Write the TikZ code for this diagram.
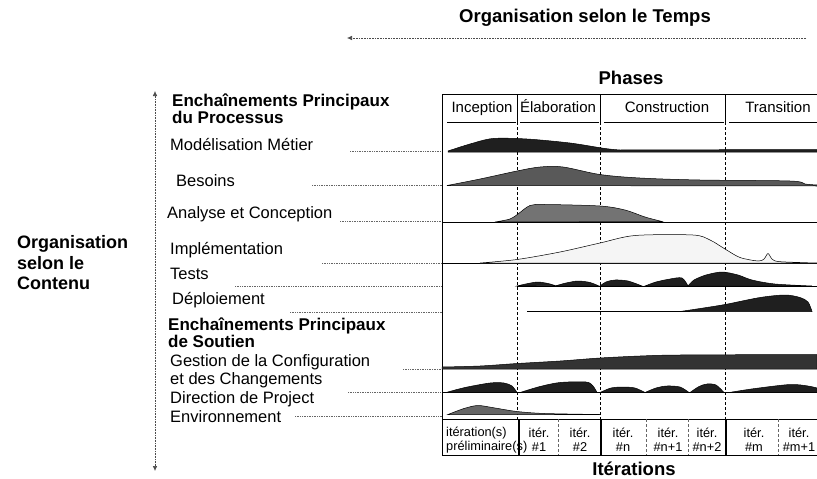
\documentclass[tikz,border=0pt]{standalone}
\usepackage{fontspec}
\setmainfont{Liberation Sans}
\usetikzlibrary{arrows.meta}
\begin{document}
\begin{tikzpicture}[x=1pt,y=-1pt,
  lbl/.style={anchor=west,inner sep=0pt,font=\fontsize{16.5}{18}\selectfont},
  lbltwo/.style={anchor=west,inner sep=0pt,align=left,font=\fontsize{16.5}{18}\selectfont},
  headtwo/.style={anchor=west,inner sep=0pt,align=left,font=\fontsize{17}{17}\selectfont\bfseries},
  bigtitle/.style={inner sep=0pt,font=\fontsize{18.5}{20.5}\selectfont\bfseries},
  phasetxt/.style={inner sep=0pt,anchor=base,font=\fontsize{15}{17}\selectfont},
  itertxt/.style={inner sep=0pt,align=center,font=\fontsize{12.8}{14}\selectfont},
  leader/.style={densely dotted,black!60,line width=0.7pt},
  axisline/.style={densely dotted,black!70,line width=0.6pt},
  divider/.style={densely dashed,black,line width=0.6pt},
  thindiv/.style={densely dashed,black!60,line width=0.5pt},
  thickdiv/.style={black,line width=1.8pt},
  frameline/.style={black,line width=0.7pt},
  hump/.style={draw=black,line width=0.5pt},
  humpblack/.style={draw=black,line width=0.5pt,fill=black!88},
  humpgray/.style={draw=black,line width=0.5pt,fill=black!60}
]
\useasboundingbox (0,0) rectangle (817,479);

% ---- titles
\node[bigtitle] (ttemps) at (585,18) {Organisation selon le Temps};
\coordinate (tA) at (806,38);
\coordinate (tB) at (347,38);
\draw[axisline,-{Latex[length=5pt,width=4.5pt]}] (tA) -- (tB);
\node[bigtitle] (tphases) at (631,78) {Phases};
\node[bigtitle] (titer) at (634,469) {Itérations};
\node[bigtitle,anchor=west,align=left,font=\fontsize{18}{20.5}\selectfont\bfseries] (tcont) at (17,263) {Organisation\\selon le\\Contenu};

% ---- vertical axis
\coordinate (vTop) at (155,91);
\coordinate (vBot) at (155,471);
\draw[axisline,{Latex[length=5pt,width=4.5pt]}-{Latex[length=5pt,width=4.5pt]}] (vTop) -- (vBot);

% ---- left labels
\node[headtwo] (hproc) at (172,108.5) {Enchaînements Principaux\\du Processus};
\node[lbl] (lmod) at (170,145) {Modélisation Métier};
\node[lbl] (lbes) at (176,181) {Besoins};
\node[lbl] (lana) at (167,214) {Analyse et Conception};
\node[lbl] (limp) at (170,250) {Implémentation};
\node[lbl] (ltes) at (170,274) {Tests};
\node[lbl] (ldep) at (172,300) {Déploiement};
\node[headtwo] (hsout) at (168,333) {Enchaînements Principaux\\de Soutien};
\node[lbltwo] (lges) at (170,371) {Gestion de la Configuration\\et des Changements};
\node[lbl] (ldir) at (170,399) {Direction de Project};
\node[lbl] (lenv) at (170,417) {Environnement};

% ---- leaders
\coordinate (m1) at (350,151); \coordinate (m2) at (442,151);
\coordinate (b1) at (312,185); \coordinate (b2) at (442,185);
\coordinate (a1) at (340,221); \coordinate (a2) at (442,221);
\coordinate (i1) at (322,263); \coordinate (i2) at (442,263);
\coordinate (s1) at (235,286); \coordinate (s2) at (442,286);
\coordinate (d1) at (290,312); \coordinate (d2) at (442,312);
\coordinate (g1) at (403,369); \coordinate (g2) at (442,369);
\coordinate (p1) at (348,392); \coordinate (p2) at (442,392);
\coordinate (e1) at (295,416); \coordinate (e2) at (442,416);
\foreach \a/\b in {m1/m2,b1/b2,a1/a2,i1/i2,s1/s2,d1/d2,g1/g2,p1/p2,e1/e2}
  \draw[leader] (\a) -- (\b);

% ---- frame and phase header
\draw[frameline] (442,455) -- (442,94) -- (817,94);
\draw[frameline] (442,455) -- (817,455);
\draw[frameline] (442,419) -- (817,419);
\foreach \x in {517,600,725} \draw[frameline] (\x,94) -- (\x,122);
\draw[frameline] (447,122) -- (516,122);
\draw[frameline] (520,122) -- (599,122);
\draw[frameline] (604,122) -- (724,122);
\draw[frameline] (729,122) -- (817,122);
\node[phasetxt] (pinc) at (482,112.5) {Inception};
\node[phasetxt] (pela) at (558,112.5) {Élaboration};
\node[phasetxt] (pcon) at (667,112.5) {Construction};
\node[phasetxt] (ptra) at (778,112.5) {Transition};
\foreach \x in {517,600,725} \draw[divider] (\x,122) -- (\x,419);

% ---- humps
% Modelisation Metier
\filldraw[humpblack] plot[smooth,tension=0.5] coordinates {(448,151) (470,144) (493,138.5) (527,139) (570,143) (605,148.5) (620,150)} -- (817,149.5) -- (817,152) -- (448,152) -- cycle;
% Besoins
\filldraw[humpgray,fill=black!65] plot[smooth,tension=0.55] coordinates {(447,185.5) (480,179) (517,171) (540,167) (563,167) (600,174.5) (640,178) (700,180) (790,181) (805,184) (817,185)} -- (817,186) -- cycle;
% Analyse et Conception
\draw[black,line width=0.8pt] (442,222) -- (817,222);
\filldraw[humpgray,fill=black!55] plot[smooth,tension=0.5] coordinates {(495,222) (510,219) (518,214) (530,205.5) (545,204.5) (600,206) (625,210) (645,217) (662,221.5)} -- cycle;
% Implementation
\draw[black,line width=0.8pt] (442,263.5) -- (817,263.5);
\filldraw[hump,fill=black!4] plot[smooth,tension=0.5] coordinates {(480,263) (517,259.5) (560,252) (600,243) (635,235.5) (693,235) (710,240) (725,249) (740,257.5) (758,261) (764,259) (768,253.5) (772,259) (778,261.5) (800,262.5) (817,263)} -- cycle;
% Tests
\draw[black,line width=0.8pt] (517,286) -- (817,286);
\filldraw[humpblack] plot[smooth,tension=0.5] coordinates {(517,286) (528,283.5) (538,282) (548,283.5) (555,285.5)} -- cycle;
\filldraw[humpblack] plot[smooth,tension=0.5] coordinates {(555,286) (566,283) (578,281) (590,282.5) (599,286)} -- cycle;
\filldraw[humpblack] plot[smooth,tension=0.5] coordinates {(600,286) (606,282) (615,280) (628,281) (642,286)} -- cycle;
\filldraw[humpblack] plot[smooth,tension=0.5] coordinates {(645,286) (656,282) (670,279) (682,278) (688,286)} -- cycle;
\filldraw[humpblack] plot[smooth,tension=0.5] coordinates {(688,286) (694,280) (706,275) (722,272) (738,275) (752,280) (775,284) (812,286)} -- cycle;
% Deploiement
\draw[black,line width=0.8pt] (527,311.5) -- (690,311.5);
\filldraw[humpblack] plot[smooth,tension=0.5] coordinates {(680,311.5) (700,308.5) (725,304.5) (760,297.5) (785,295) (800,297.5) (808,302) (812,311.5)} -- cycle;
% Gestion de la configuration
\filldraw[humpblack,fill=black!80] plot[smooth,tension=0.5] coordinates {(442,367) (480,366) (517,363.5) (560,361) (600,358) (640,356) (680,355) (817,354.5)} -- (817,369) -- (442,369) -- cycle;
% Direction de projet
\draw[black,line width=0.8pt] (442,392.5) -- (817,392.5);
\filldraw[humpblack] plot[smooth,tension=0.5] coordinates {(446,392.5) (465,387.5) (490,383) (504,383) (512,386) (517,392.5)} -- cycle;
\filldraw[humpblack] plot[smooth,tension=0.5] coordinates {(520,392.5) (540,386.5) (560,382.5) (586,382) (593,386) (597,392.5)} -- cycle;
\filldraw[humpblack] plot[smooth,tension=0.5] coordinates {(600,392.5) (611,388) (623,387) (635,388) (645,392.5)} -- cycle;
\filldraw[humpblack] plot[smooth,tension=0.5] coordinates {(645,392.5) (656,388) (667,386) (680,387) (689,392.5)} -- cycle;
\filldraw[humpblack] plot[smooth,tension=0.5] coordinates {(690,392.5) (699,386.5) (707,384) (716,385) (724,392.5)} -- cycle;
\filldraw[humpblack] plot[smooth,tension=0.5] coordinates {(729,392.5) (755,388.5) (790,384.5) (808,386) (817,388)} -- (817,392.5) -- cycle;
% Environnement
\filldraw[humpgray] plot[smooth,tension=0.5] coordinates {(448,414.5) (464,408.5) (478,405.5) (495,408) (517,411.5) (545,413.5) (600,414.5)} -- cycle;

% ---- iteration strip
\foreach \x in {519,601,726} \draw[thickdiv] (\x,419) -- (\x,455);
\foreach \x in {558,646,688,778} \draw[thindiv] (\x,419) -- (\x,455);
\node[itertxt,anchor=west,align=left] (iprel) at (446,440) {itération(s)\\préliminaire(s)};
\node[itertxt] (it1) at (539,440) {itér.\\\#1};
\node[itertxt] (it2) at (580,440) {itér.\\\#2};
\node[itertxt] (itn) at (623,440) {itér.\\\#n};
\node[itertxt] (itn1) at (668,440) {itér.\\\#n+1};
\node[itertxt] (itn2) at (707,440) {itér.\\\#n+2};
\node[itertxt] (itm) at (754,440) {itér.\\\#m};
\node[itertxt] (itm1) at (799,440) {itér.\\\#m+1};
\end{tikzpicture}
\end{document}
